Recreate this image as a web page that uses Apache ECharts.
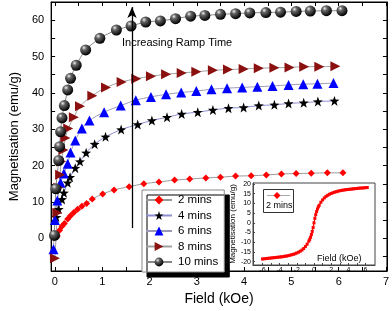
<!DOCTYPE html>
<html><head><meta charset="utf-8">
<script src="https://cdn.jsdelivr.net/npm/echarts@6/dist/echarts.min.js"></script>
<style>html,body{margin:0;padding:0;background:#fff}#c{width:392px;height:311px}</style>
</head><body><div id="c"></div>
<script>
// ---- tick labels ----
const xLabelVals = [0,1,2,3,4,5,6,7];
const xTickVals = [0,0.5,1,1.5,2,2.5,3,3.5,4,4.5,5,5.5,6,6.5,7];
const yLabelVals = [0,10,20,30,40,50,60];
const yTickVals = [-5,0,5,10,15,20,25,30,35,40,45,50,55,60];
const insetXLabelVals = [-6,-4,-2,0,2,4,6];
const insetXTickVals = [-6,-5,-4,-3,-2,-1,0,1,2,3,4,5,6];
const insetYLabelVals = [-20,-15,-10,-5,0,5,10,15,20];

// ---- series names ----
const seriesNames = ['2 mins','4 mins','6 mins','8 mins','10 mins'];

// ---- data (Field kOe, Magnetisation emu/g) ----
const field2 = [0.05,0.10,0.15,0.20,0.27,0.33,0.40,0.48,0.57,0.67,0.79,1.01,1.25,1.57,1.88,2.20,2.53,2.85,3.19,3.50,3.82,4.15,4.47,4.79,5.10,5.42,5.76,6.09];
const mag2   = [0.6,2.2,3.3,4.1,5.3,6.2,7.1,8.0,8.8,9.6,10.8,12.2,13.3,14.2,15.0,15.5,16.0,16.3,16.6,16.8,17.1,17.2,17.4,17.7,17.8,17.9,18.0,18.0];

const field4 = [0.03,0.08,0.15,0.19,0.27,0.32,0.43,0.53,0.66,0.84,1.07,1.40,1.75,2.05,2.37,2.68,3.02,3.34,3.67,3.99,4.31,4.64,4.94,5.26,5.56,5.91];
const mag4   = [5.8,8.0,10.7,12.5,15.3,16.8,19.3,21.1,23.5,25.9,27.9,29.9,31.3,32.4,33.3,34.2,34.7,35.3,35.8,36.0,36.5,36.7,37.1,37.3,37.6,37.8];

const field6 = [-0.03,0.0,0.05,0.12,0.19,0.27,0.33,0.43,0.57,0.73,1.04,1.39,1.71,2.03,2.35,2.67,2.99,3.31,3.64,3.96,4.28,4.60,4.94,5.25,5.55,5.89];
const mag6   = [-3.0,5.0,10.4,15.3,17.8,20.5,23.6,26.9,30.2,32.4,34.7,36.5,38.0,38.9,39.6,40.1,40.5,41.0,41.3,41.5,41.7,41.9,42.2,42.4,42.5,42.7];

const field8 = [0.0,0.05,0.07,0.11,0.13,0.18,0.22,0.28,0.40,0.53,0.79,1.08,1.41,1.72,2.03,2.35,2.68,2.99,3.34,3.66,3.99,4.31,4.64,4.96,5.27,5.59,5.93];
const mag8   = [-5.5,7.0,13.9,17.5,21.1,24.3,27.6,30.2,33.3,36.3,39.2,41.5,43.0,43.9,44.6,45.1,45.5,45.8,46.2,46.4,46.6,46.8,46.9,47.0,47.2,47.2,47.3];

const field10 = [-0.01,0.02,0.08,0.10,0.12,0.15,0.20,0.27,0.33,0.45,0.65,0.95,1.30,1.61,1.92,2.23,2.55,2.87,3.17,3.50,3.82,4.12,4.46,4.77,5.10,5.40,5.74,6.07];
const mag10   = [0.8,13.6,21.4,25.2,29.3,33.1,36.5,40.8,44.0,47.6,51.8,55.0,57.3,58.4,59.5,59.8,60.4,61.1,61.3,61.6,61.8,62.0,62.1,62.2,62.4,62.5,62.6,62.6];

// inset: full loop of 2 mins sample
const insetField = [-6.0,-5.8,-5.6,-5.4,-5.2,-5.0,-4.8,-4.6,-4.4,-4.2,-4.0,-3.8,-3.6,-3.4,-3.2,-3.0,-2.8,-2.6,-2.4,-2.2,-2.0,-1.8,-1.6,-1.4,-1.2,-1.0,-0.8,-0.6,-0.5,-0.4,-0.3,-0.2,-0.1,0.0,0.1,0.2,0.3,0.4,0.5,0.6,0.8,1.0,1.2,1.4,1.6,1.8,2.0,2.2,2.4,2.6,2.8,3.0,3.2,3.4,3.6,3.8,4.0,4.2,4.4,4.6,4.8,5.0,5.2,5.4,5.6,5.8,6.0,6.2];
const insetMag = [-18.6,-18.5,-18.4,-18.3,-18.2,-18.1,-18.0,-17.9,-17.8,-17.7,-17.6,-17.5,-17.4,-17.2,-17.1,-16.9,-16.7,-16.4,-16.2,-15.9,-15.5,-15.1,-14.6,-14.0,-13.2,-12.2,-11.0,-9.4,-8.5,-7.4,-6.0,-4.4,-2.4,0.0,2.3,4.2,5.8,7.1,8.2,9.0,10.6,11.8,12.8,13.6,14.2,14.7,15.1,15.5,15.8,16.0,16.3,16.5,16.7,16.8,17.0,17.1,17.2,17.3,17.4,17.5,17.6,17.7,17.8,17.9,17.9,18.0,18.1,18.2];

// annotation arrow (data coords)
const arrowField = 1.63, arrowFrom = 2.8, arrowTo = 63.6;

function zip(a,b){ return a.map((v,i)=>[v,b[i]]); }

const FONT = '"Liberation Sans", Arial, sans-serif';
const starPath = 'path://M0,-10 L2.35,-3.24 L9.51,-3.09 L3.8,1.24 L5.88,8.09 L0,4 L-5.88,8.09 L-3.8,1.24 L-9.51,-3.09 L-2.35,-3.24 Z';
const rightTri = 'path://M0,0 L10,5 L0,10 Z';

const chart = echarts.init(document.getElementById('c'), null, {renderer:'canvas'});
const ballGrad = new echarts.graphic.RadialGradient(0.35,0.3,0.7,[
  {offset:0,color:'#f0f0f0'},{offset:0.3,color:'#666'},{offset:1,color:'#000'}]);

const mainTick = {show:true, inside:true, length:4, lineStyle:{color:'#000',width:1}};
const axisLineBlack = {show:true, onZero:false, lineStyle:{color:'#000',width:1}};

chart.setOption({
  animation:false,
  textStyle:{fontFamily:FONT},
  grid:[
    {left:33, right:4, top:2, bottom:36, show:true, borderColor:'#000', borderWidth:1, backgroundColor:'transparent'},
    {left:253, top:183, width:122, height:82, show:true, borderColor:'#444', borderWidth:1, backgroundColor:'#fff', z:10}
  ],
  xAxis:[
    {type:'value', gridIndex:0, min:-0.08, max:7.02, position:'bottom',
     axisLine:axisLineBlack, splitLine:{show:false},
     axisTick:Object.assign({customValues:xTickVals}, mainTick),
     axisLabel:{customValues:xLabelVals, fontSize:11, color:'#000', margin:5, fontFamily:FONT},
     name:'Field (kOe)', nameLocation:'middle', nameGap:21,
     nameTextStyle:{fontSize:14, color:'#000', fontFamily:FONT}},
    {type:'value', gridIndex:0, min:-0.08, max:7.02, position:'top',
     axisLine:axisLineBlack, splitLine:{show:false},
     axisTick:Object.assign({customValues:xTickVals}, mainTick),
     axisLabel:{show:false}},
    {type:'value', gridIndex:1, min:-7.1, max:7.1, position:'bottom', z:10,
     axisLine:{show:true,onZero:false,lineStyle:{color:'#444',width:1}}, splitLine:{show:false},
     axisTick:{show:true, inside:true, length:2, customValues:insetXTickVals, lineStyle:{color:'#444'}},
     axisLabel:{customValues:insetXLabelVals, fontSize:7, color:'#000', margin:2, fontFamily:FONT}}
  ],
  yAxis:[
    {type:'value', gridIndex:0, min:-9, max:65, position:'left',
     axisLine:axisLineBlack, splitLine:{show:false},
     axisTick:Object.assign({customValues:yTickVals}, mainTick),
     axisLabel:{customValues:yLabelVals, fontSize:11, color:'#000', margin:7, fontFamily:FONT},
     name:'Magnetisation (emu/g)', nameLocation:'middle', nameGap:18,
     nameTextStyle:{fontSize:13, color:'#000', fontFamily:FONT}},
    {type:'value', gridIndex:0, min:-9, max:65, position:'right',
     axisLine:axisLineBlack, splitLine:{show:false},
     axisTick:Object.assign({customValues:yTickVals}, mainTick),
     axisLabel:{show:false}},
    {type:'value', gridIndex:1, min:-21.7, max:20.5, position:'left', z:10,
     axisLine:{show:true,onZero:false,lineStyle:{color:'#444',width:1}}, splitLine:{show:false},
     axisTick:{show:true, inside:true, length:2, customValues:insetYLabelVals, lineStyle:{color:'#444'}},
     axisLabel:{customValues:insetYLabelVals, fontSize:7, color:'#000', margin:2, fontFamily:FONT},
     name:'Magnetisation (emu/g)', nameLocation:'middle', nameGap:14,
     nameTextStyle:{fontSize:8, color:'#000', fontFamily:FONT}}
  ],
  legend:{
    data:seriesNames, orient:'vertical', left:142, top:190,
    padding:[4,6,4,3], itemGap:3.5, itemWidth:26, itemHeight:11,
    backgroundColor:'#fff', borderColor:'#888', borderWidth:1,
    shadowColor:'#000', shadowOffsetX:5, shadowOffsetY:5, shadowBlur:0,
    textStyle:{fontSize:11.5, color:'#000', fontFamily:FONT, padding:[0,0,0,1]}
  },
  series:[
    {name:seriesNames[0], type:'line', xAxisIndex:0, yAxisIndex:0, data:zip(field2,mag2), smooth:0.3,
     symbol:'diamond', symbolSize:7, itemStyle:{color:'#ff0000'}, lineStyle:{color:'#999',width:1}},
    {name:seriesNames[1], type:'line', xAxisIndex:0, yAxisIndex:0, data:zip(field4,mag4), smooth:0.3,
     symbol:starPath, symbolSize:10, itemStyle:{color:'#000'}, lineStyle:{color:'#8c8cd0',width:1}},
    {name:seriesNames[2], type:'line', xAxisIndex:0, yAxisIndex:0, data:zip(field6,mag6), smooth:0.3,
     symbol:'triangle', symbolSize:10, itemStyle:{color:'#0000ff'}, lineStyle:{color:'#9a9ab8',width:1}},
    {name:seriesNames[3], type:'line', xAxisIndex:0, yAxisIndex:0, data:zip(field8,mag8), smooth:0.3,
     symbol:rightTri, symbolSize:10, itemStyle:{color:'#8b1111'}, lineStyle:{color:'#a0a0a0',width:1}},
    {name:seriesNames[4], type:'line', xAxisIndex:0, yAxisIndex:0, data:zip(field10,mag10), smooth:0.3,
     symbol:'circle', symbolSize:11, itemStyle:{color:ballGrad}, lineStyle:{color:'#888',width:1}},
    {name:'arrow', type:'line', xAxisIndex:0, yAxisIndex:0, data:[], silent:true,
     markLine:{silent:true, symbol:['none','arrow'], symbolSize:[7,11], label:{show:false},
       lineStyle:{color:'#000', width:1.3, type:'solid'},
       data:[[{coord:[arrowField,arrowFrom]},{coord:[arrowField,arrowTo]}]]}},
    {name:'inset', type:'line', xAxisIndex:2, yAxisIndex:2, data:zip(insetField,insetMag), z:12,
     symbol:'rect', symbolSize:3, itemStyle:{color:'#ff0000'}, lineStyle:{color:'#ff0000',width:1.2},
     markLine:{silent:true, symbol:'none', label:{show:false},
       lineStyle:{color:'#888', width:1, type:'solid'},
       data:[{xAxis:0},{yAxis:0}]}}
  ],
  graphic:[
    {type:'text', x:122, y:37, z:20,
     style:{text:'Increasing Ramp Time', fontSize:11, fill:'#000', fontFamily:FONT}},
    {type:'text', x:317, y:254, z:30,
     style:{text:'Field (kOe)', fontSize:9, fill:'#000', fontFamily:FONT}},
    {type:'rect', z:30, shape:{x:263.5,y:189.5,width:30,height:23}, style:{fill:'#fff', stroke:'#333', lineWidth:1}},
    {type:'line', z:31, shape:{x1:267,y1:195.5,x2:290,y2:195.5}, style:{stroke:'#aaa', lineWidth:1}},
    {type:'polygon', z:32, shape:{points:[[277,192],[280.5,195.5],[277,199],[273.5,195.5]]}, style:{fill:'#ff0000'}},
    {type:'text', z:32, x:266, y:201.5, style:{text:'2 mins', fontSize:9, fill:'#000', fontFamily:FONT}}
  ]
});
</script></body></html>
